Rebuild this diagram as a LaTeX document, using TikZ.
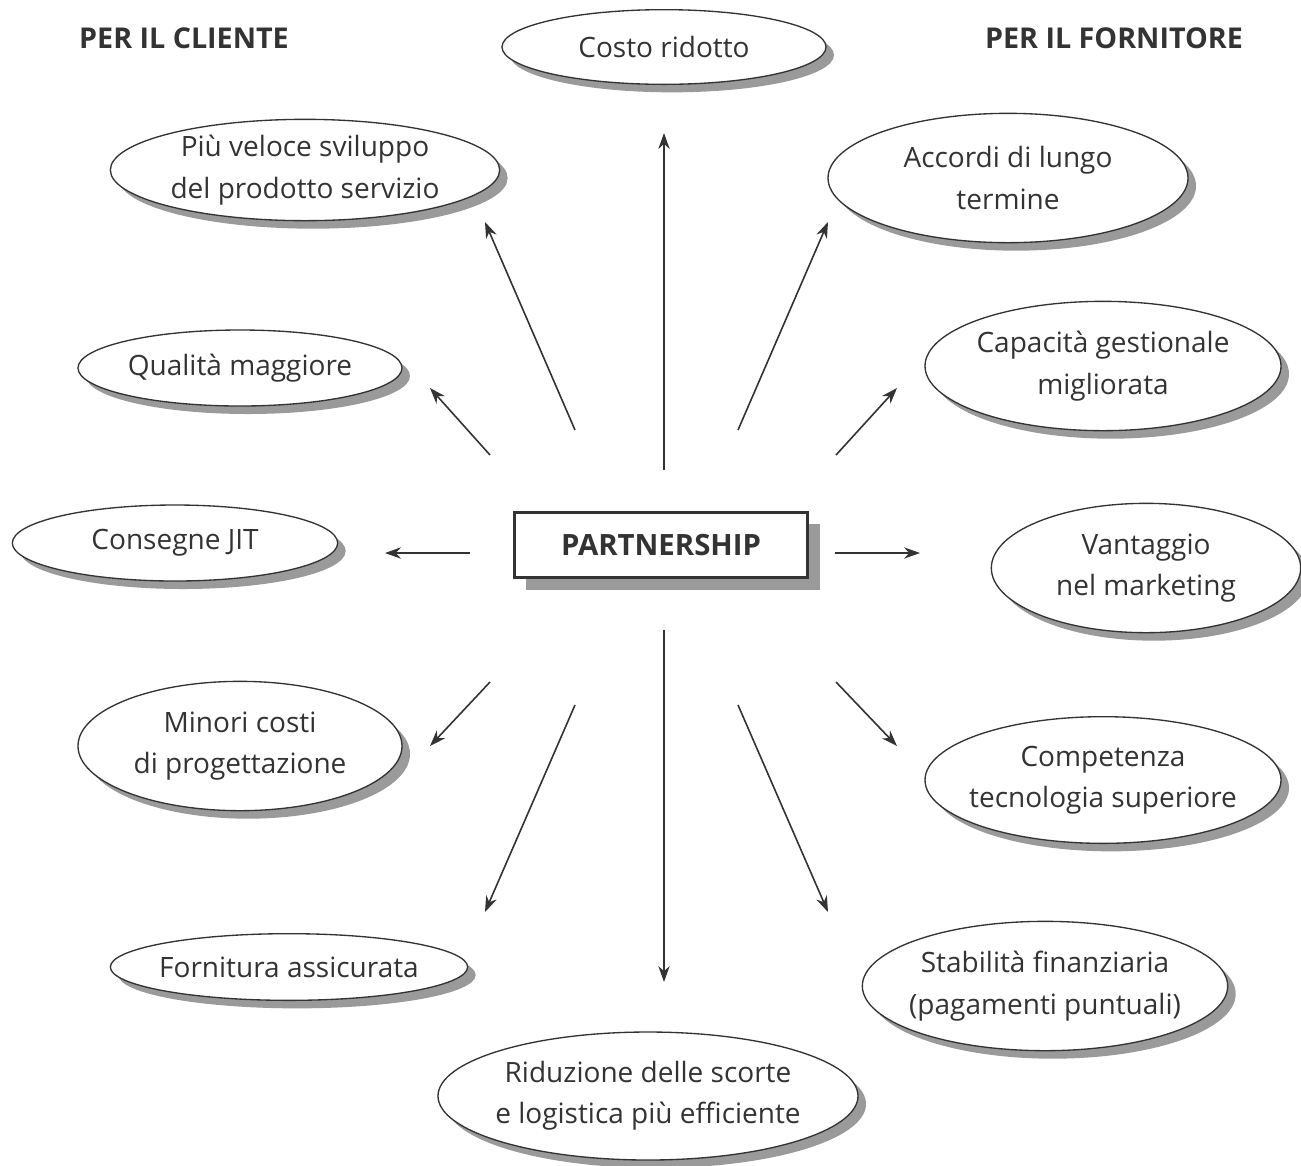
\documentclass[tikz,border=0pt]{standalone}
\usepackage{fontspec}
\setmainfont{Open Sans}
\usetikzlibrary{arrows.meta,shadows,shapes.geometric}
\definecolor{ink}{HTML}{333333}
\definecolor{shade}{HTML}{9A9A9A}
\begin{document}
\begin{tikzpicture}[x=0.75pt,y=-0.75pt,
  bubble/.style={ellipse, draw=ink, line width=1pt, fill=white, text=ink,
    font=\fontsize{21}{31}\selectfont, align=center, inner sep=-8pt,
    drop shadow={shadow xshift=6pt, shadow yshift=-6pt, fill=shade, opacity=1}},
  corebox/.style={rectangle, draw=ink, line width=2.4pt, fill=white, text=ink,
    font=\fontsize{22}{26}\bfseries\selectfont, minimum width=220pt, minimum height=49pt,
    drop shadow={shadow xshift=9pt, shadow yshift=-9pt, fill=shade, opacity=1}},
  heading/.style={text=ink, font=\fontsize{21.5}{26}\bfseries\selectfont, inner sep=0pt},
  ray/.style={draw=ink, line width=1.2pt, -{Stealth[length=12pt,width=8.5pt]}}
]
\useasboundingbox (0,0) rectangle (1301,1165);
\fill[white] (0,0) rectangle (1301,1165);

\node[heading] (hc) at (184,38) {PER IL CLIENTE};
\node[heading] (hf) at (1114,38) {PER IL FORNITORE};

\node[corebox] (p) at (661,545) {PARTNERSHIP};

\node[bubble, minimum width=243pt, minimum height=56pt] (costo) at (664,47) {Costo ridotto};
\node[bubble, minimum width=292pt, minimum height=76pt] (veloce) at (305,170) {Più veloce sviluppo\\del prodotto servizio};
\node[bubble, minimum width=270pt, minimum height=97pt] (accordi) at (1008,178) {Accordi di lungo\\termine};
\node[bubble, minimum width=243pt, minimum height=57pt] (qualita) at (240,368) {Qualità maggiore};
\node[bubble, minimum width=267pt, minimum height=97pt] (capacita) at (1103,366) {Capacità gestionale\\migliorata};
\node[bubble, minimum width=244pt, minimum height=57pt] (consegne) at (175,543) {Consegne JIT};
\node[bubble, minimum width=232pt, minimum height=97pt] (vantaggio) at (1146,568) {Vantaggio\\nel marketing};
\node[bubble, minimum width=243pt, minimum height=97pt] (minori) at (240,746) {Minori costi\\di progettazione};
\node[bubble, minimum width=267pt, minimum height=95pt] (competenza) at (1103,780) {Competenza\\tecnologia superiore};
\node[bubble, minimum width=268pt, minimum height=50pt] (fornitura) at (289,967) {Fornitura assicurata};
\node[bubble, minimum width=274pt, minimum height=97pt] (stabilita) at (1045,986) {Stabilità finanziaria\\(pagamenti puntuali)};
\node[bubble, minimum width=315pt, minimum height=96pt] (riduzione) at (648,1096) {Riduzione delle scorte\\e logistica più efficiente};

% arrow end points
\coordinate (s1) at (664,470); \coordinate (e1) at (664,133);
\coordinate (s2) at (575,430); \coordinate (e2) at (485,222);
\coordinate (s3) at (738,430); \coordinate (e3) at (828,222);
\coordinate (s4) at (490,455); \coordinate (e4) at (430,388);
\coordinate (s5) at (836,455); \coordinate (e5) at (897,388);
\coordinate (s6) at (470,553); \coordinate (e6) at (385,553);
\coordinate (s7) at (835,553); \coordinate (e7) at (920,553);
\coordinate (s8) at (490,682); \coordinate (e8) at (430,746);
\coordinate (s9) at (836,682); \coordinate (e9) at (897,746);
\coordinate (s10) at (575,705); \coordinate (e10) at (485,912);
\coordinate (s11) at (738,705); \coordinate (e11) at (828,912);
\coordinate (s12) at (664,630); \coordinate (e12) at (664,982);

\foreach \i in {1,...,12} { \draw[ray] (s\i) -- (e\i); }
\end{tikzpicture}
\end{document}
